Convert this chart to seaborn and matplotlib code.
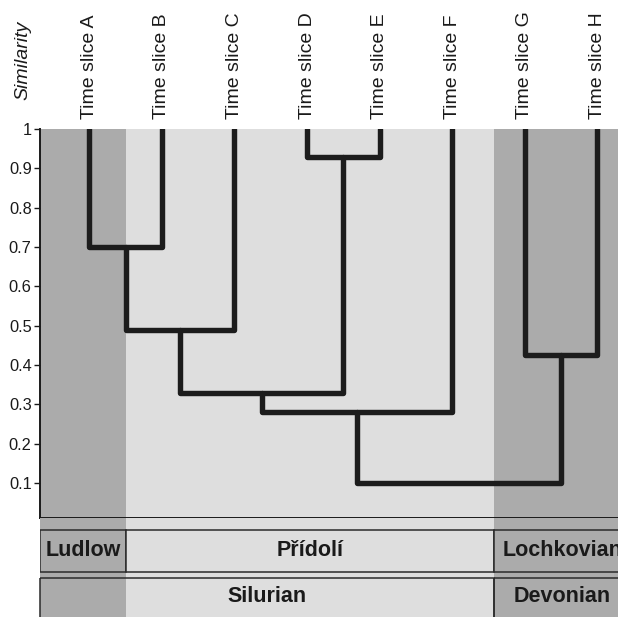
import matplotlib
matplotlib.use("Agg")
import matplotlib.pyplot as plt
from matplotlib.patches import Rectangle
import pandas as pd
import seaborn as sns

# dendrogram data (Similarity)
leaves = ["Time slice A", "Time slice B", "Time slice C", "Time slice D",
          "Time slice E", "Time slice F", "Time slice G", "Time slice H"]
merge_a = [0, 3, 8, 10, 11, 6, 12]
merge_b = [1, 4, 2, 9, 5, 7, 13]
merge_h = [0.70, 0.93, 0.49, 0.33, 0.28, 0.425, 0.10]

yticks = [0.1, 0.2, 0.3, 0.4, 0.5, 0.6, 0.7, 0.8, 0.9, 1.0]
ytick_labels = ["0.1", "0.2", "0.3", "0.4", "0.5", "0.6", "0.7", "0.8", "0.9", "1"]

# stratigraphy (positions in leaf units)
stages = ["Ludlow", "Přídolí", "Lochkovian"]
stage_start = [-0.68, 0.5, 5.58]
stage_end = [0.5, 5.58, 7.45]
systems = ["Silurian", "Devonian"]
system_start = [-0.68, 5.58]
system_end = [5.58, 7.45]

dark = "#ababab"
light = "#dedede"
stage_col = [dark, light, dark]
line_col = "#1c1c1c"

sns.set_style("white")
plt.rcParams['font.family'] = ['Liberation Sans', 'DejaVu Sans']

# build U-shaped links
node_x = {i: float(i) for i in range(len(leaves))}
node_h = {i: 1.0 for i in range(len(leaves))}
rows = []
for k, (a, b, h) in enumerate(zip(merge_a, merge_b, merge_h)):
    nid = len(leaves) + k
    pts = [(node_x[a], node_h[a]), (node_x[a], h), (node_x[b], h), (node_x[b], node_h[b])]
    for j, (x, y) in enumerate(pts):
        rows.append({"link": k, "order": j, "x": x, "y": y})
    node_x[nid] = (node_x[a] + node_x[b]) / 2
    node_h[nid] = h
df = pd.DataFrame(rows)

W, H = 618, 617
fig = plt.figure(figsize=(6.18, 6.17), dpi=100)
left_px, right_px = 40, 630
ax = fig.add_axes([left_px / W, 1 - 518 / H, (right_px - left_px) / W, (518 - 129) / H])
axb = fig.add_axes([left_px / W, 0, (right_px - left_px) / W, (617 - 518) / H])

xmin, xmax = -0.68, 7.45

# shading
for s, e, c in zip(stage_start, stage_end, stage_col):
    ax.axvspan(s, e, color=c, lw=0, zorder=0)
    axb.axvspan(s, e, color=c, lw=0, zorder=0)

sns.lineplot(data=df, x="x", y="y", units="link", estimator=None, sort=False,
             color=line_col, lw=3.9, ax=ax, solid_capstyle="round",
             solid_joinstyle="round", zorder=3, legend=False)

ax.set_xlim(xmin, xmax)
ax.set_ylim(0.011, 1.0)
ax.xaxis.tick_top()
ax.set_xticks(range(len(leaves)))
ax.set_xticklabels(leaves, rotation=90, fontsize=14, color="#1a1a1a")
ax.tick_params(axis="x", length=0, pad=7)
ax.set_yticks(yticks)
ax.set_yticklabels(ytick_labels, fontsize=11.8, color="#1a1a1a")
ax.tick_params(axis="y", left=True, length=4, width=1, pad=2, color="#1a1a1a")
ax.set_xlabel("")
ax.set_ylabel("")
for sp in ["top", "right"]:
    ax.spines[sp].set_visible(False)
for sp in ["left", "bottom"]:
    ax.spines[sp].set_color("#1a1a1a")
    ax.spines[sp].set_linewidth(1.4)

fig.text(23 / W, 1 - 100 / H, "Similarity", rotation=90, style="italic",
         fontsize=14, ha="center", va="bottom", color="#1a1a1a")

# stratigraphic boxes (y in pixels below the plot)
axb.set_xlim(xmin, xmax)
axb.set_ylim(99, 0)
axb.axis("off")
for name, s, e, c in zip(stages, stage_start, stage_end, stage_col):
    axb.add_patch(Rectangle((s, 12), e - s, 42, facecolor=c, edgecolor="#2a2a2a", lw=1.1))
    axb.text((s + e) / 2, 33, name, ha="center", va="center", fontsize=15.5,
             fontweight="bold", color="#1a1a1a")
for name, s, e in zip(systems, system_start, system_end):
    axb.add_patch(Rectangle((s, 60), e - s, 60, facecolor="none", edgecolor="#2a2a2a",
                            lw=1.1, clip_on=False))
    axb.text((s + e) / 2, 79, name, ha="center", va="center", fontsize=15.5,
             fontweight="bold", color="#1a1a1a")

fig.savefig("out.png", dpi=100)
